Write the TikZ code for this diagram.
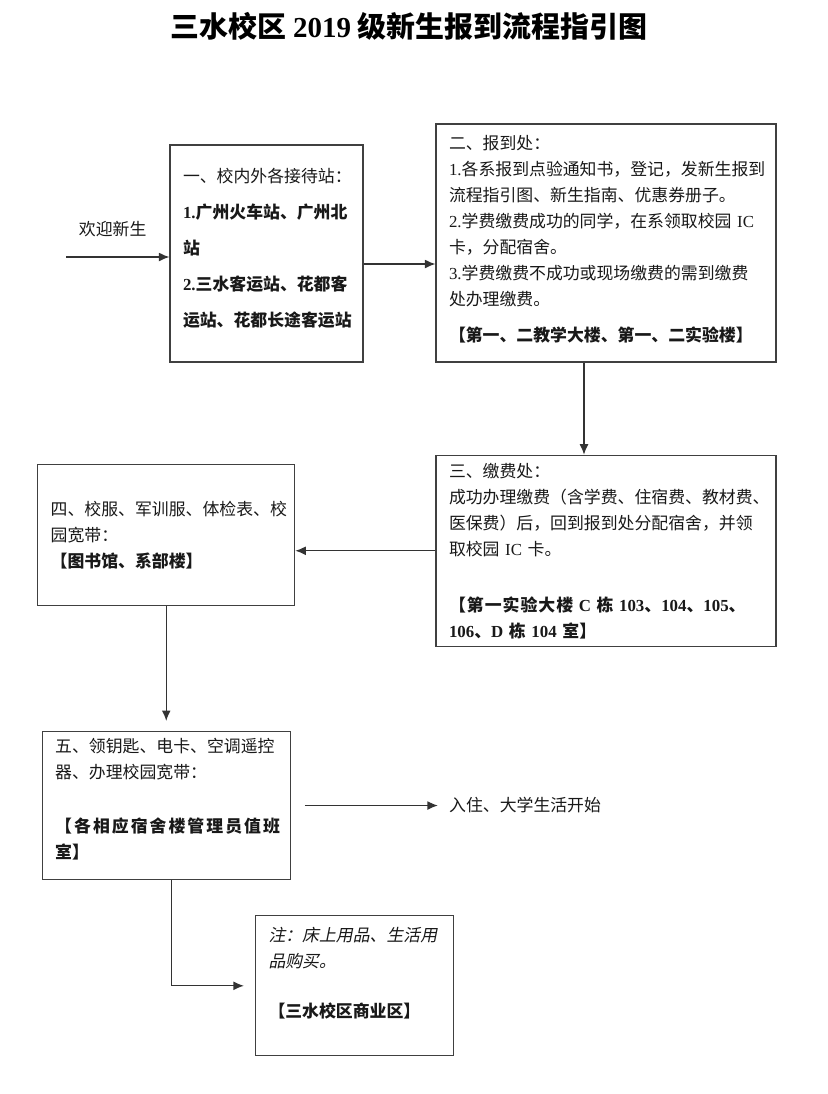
\documentclass[tikz,border=0pt]{standalone}
\usepackage{fontspec}
\setmainfont{Noto Sans CJK SC}
\newfontfamily\latinfont{Liberation Serif}
\newfontfamily\notefont[FakeSlant=0.2]{Noto Sans CJK SC}
\newcommand{\en}[1]{{\latinfont #1}}
\usetikzlibrary{arrows.meta, positioning}
\tikzstyle{box} = [rectangle, draw=black!75, line width=0.9pt, align=left, inner xsep=0.325cm, text=black!90, font=\fontsize{12}{18.5}\selectfont]
\tikzstyle{flow} = [line width=0.8pt, ->, >={Latex[length=2.6mm, width=2.2mm]}, black!80]
\tikzstyle{plain} = [text=black!90, font=\fontsize{12}{18.5}\selectfont]

\begin{document}
\begin{tikzpicture}

	\useasboundingbox[fill=white] (0,0) rectangle (20.7,-27.35);

	% Title
	\node (title) at (10.225,-0.65) {\fontsize{20.6}{24}\selectfont\bfseries 三水校区 \en{2019} 级新生报到流程指引图};

	% Stations and registration
	\node (station) [box, text width=4.175cm, minimum height=5.425cm, font=\fontsize{12}{25.6}\selectfont] at (6.6625,-6.3375) {一、校内外各接待站：\\\textbf{\en{1.}广州火车站、广州北}\\\textbf{站}\\\textbf{\en{2.}三水客运站、花都客}\\\textbf{运站、花都长途客运站}\\[-0.6cm]\mbox{}};
	\node (register) [box, text width=7.85cm, minimum height=5.95cm] at (15.15,-6.075) {二、报到处：\\\en{1.}各系报到点验通知书，登记，发新生报到\\流程指引图、新生指南、优惠券册子。\\\en{2.}学费缴费成功的同学，在系领取校园 \en{IC}\\卡，分配宿舍。\\\en{3.}学费缴费不成功或现场缴费的需到缴费\\处办理缴费。\\[0.25cm]\textbf{【第一、二教学大楼、第一、二实验楼】}\\[-0.4cm]\mbox{}};

	% Payment and uniforms
	\node (payment) [box, text width=7.85cm, minimum height=4.775cm, below=2.3cm of register] {三、缴费处：\\成功办理缴费（含学费、住宿费、教材费、\\医保费）后，回到报到处分配宿舍，并领\\取校园 \en{IC} 卡。\\[0.75cm]{\bfseries\addfontfeature{LetterSpace=6}【第一实验大楼 \en{C} 栋 \en{103}、\en{104}、\en{105}、}\\\textbf{\en{106}、\en{D} 栋 \en{104} 室】}};
	\node (uniform) [box, text width=5.775cm, minimum height=3.525cm, left=3.5cm of payment, yshift=0.4cm] {四、校服、军训服、体检表、校\\园宽带：\\\textbf{【图书馆、系部楼】}};

	% Dormitory
	\node (dorm) [box, text width=5.55cm, minimum height=3.7cm, below=3.125cm of uniform] {五、领钥匙、电卡、空调遥控\\器、办理校园宽带：\\[0.7cm]{\bfseries\addfontfeature{LetterSpace=12}【各相应宿舍楼管理员值班}\\\textbf{室】}\\[-0.3cm]\mbox{}};
	\node (checkin) [plain, right=3.675cm of dorm, inner xsep=0.275cm] {入住、大学生活开始};
	\node (shop) [box, text width=4.3cm, minimum height=3.5cm, below=0.875cm of dorm.south east, anchor=north west, xshift=-0.9cm] {{\notefont 注：床上用品、生活用}\\{\notefont 品购买。}\\[0.6cm]\textbf{【三水校区商业区】}\\\mbox{}};

	% Arrows
	\coordinate (arrive) at (1.65,-6.425);
	\draw[flow] (arrive) -- (arrive -| station.west) node[plain, midway, above=0.38cm, xshift=-0.125cm] (welcome) {欢迎新生};
	\draw[flow] ([yshift=-0.2625cm]station.east) -- ([yshift=-0.2625cm]station.east -| register.west);
	\draw[flow] ([xshift=-0.55cm]register.south) -- ([xshift=-0.55cm]payment.north);
	\draw[flow] (payment.west) -- (payment.west -| uniform.east);
	\draw[flow, shorten >=0.25cm] (uniform.south) -- (uniform.south |- dorm.north);
	\draw[flow] ([xshift=0.35cm]dorm.east) -- (checkin.west);
	\draw[flow, shorten >=0.275cm] ([xshift=0.125cm]dorm.south) |- (shop.west);

\end{tikzpicture}
\end{document}
